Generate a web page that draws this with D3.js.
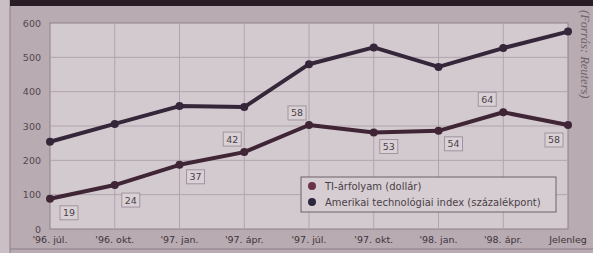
<!DOCTYPE html>
<html lang="hu">
  <head>
    <meta charset="UTF-8">
    <script src="https://d3js.org/d3.v7.min.js"></script>
    <title>TI-árfolyam</title>
    <style>
      body { margin: 0; background: #b8abb1; }
      svg { display: block; font-family: "DejaVu Sans", Arial, sans-serif; }
    </style>
  </head>
  <body>
    <div id="chart"></div>
    <script>
      // adatok
      const categories = ["'96. júl.", "'96. okt.", "'97. jan.", "'97. ápr.", "'97. júl.", "'97. okt.", "'98. jan.", "'98. ápr.", "Jelenleg"];
      const indexValues = [254, 306, 358, 355, 480, 529, 472, 527, 575];
      const tiValues = [88, 128, 187, 224, 303, 281, 286, 340, 303];
      const tiPrices = [19, 24, 37, 42, 58, 53, 54, 64, 58];
      const yTicks = [0, 100, 200, 300, 400, 500, 600];
      const seriesNames = ["TI-árfolyam (dollár)", "Amerikai technológiai index (százalékpont)"];

      // címkék elhelyezése a pontokhoz képest
      const labelOffsets = [[19, 14], [16, 15], [16, 12], [-12, -13], [-12, -12], [15, 14], [15, 13], [-16, -13], [-14, 15]];

      const width = 593, height = 253;
      const margin = { top: 23, right: 25, bottom: 24, left: 50 };

      const svg = d3.select("#chart").append("svg")
        .attr("width", width)
        .attr("height", height);

      // keret
      svg.append("rect").attr("x", 0).attr("y", 0).attr("width", 10).attr("height", height).attr("fill", "#c9bfc4");
      svg.append("line").attr("x1", 10).attr("x2", 10).attr("y1", 0).attr("y2", height).attr("stroke", "#8d7f88");
      svg.append("rect").attr("x", 10).attr("y", 0).attr("width", width - 10).attr("height", 6).attr("fill", "#2a1d26");
      svg.append("line").attr("x1", 10).attr("x2", width).attr("y1", 249).attr("y2", 249).attr("stroke", "#8d7f88");

      const x = d3.scalePoint()
        .domain(categories)
        .range([margin.left, width - margin.right]);

      const y = d3.scaleLinear()
        .domain([0, 600])
        .range([height - margin.bottom, margin.top]);

      // rajzterület
      svg.append("rect")
        .attr("x", margin.left)
        .attr("y", margin.top)
        .attr("width", width - margin.right - margin.left)
        .attr("height", y(0) - y(600))
        .attr("fill", "#d3cacf")
        .attr("stroke", "#8e818a");

      // rácsvonalak
      svg.append("g")
        .selectAll("line.h")
        .data(yTicks.slice(1, -1))
        .join("line")
        .attr("x1", margin.left).attr("x2", width - margin.right)
        .attr("y1", d => y(d)).attr("y2", d => y(d))
        .attr("stroke", "#b0a4ac");

      svg.append("g")
        .selectAll("line.v")
        .data(categories.slice(1, -1))
        .join("line")
        .attr("x1", d => x(d)).attr("x2", d => x(d))
        .attr("y1", y(0)).attr("y2", y(600))
        .attr("stroke", "#b0a4ac");

      // tengelyfeliratok
      svg.append("g")
        .selectAll("text")
        .data(yTicks)
        .join("text")
        .attr("x", 41)
        .attr("y", d => y(d) + 3.5)
        .attr("text-anchor", "end")
        .attr("font-size", 9.5)
        .attr("fill", "#54474f")
        .text(d => d);

      svg.append("g")
        .selectAll("text")
        .data(categories)
        .join("text")
        .attr("x", d => x(d))
        .attr("y", 243)
        .attr("text-anchor", "middle")
        .attr("font-size", 9.5)
        .attr("fill", "#3e333b")
        .text(d => d);

      // vonalak
      const line = d3.line()
        .x((d, i) => x(categories[i]))
        .y(d => y(d));

      const series = [
        { values: tiValues, color: "#3f2535" },
        { values: indexValues, color: "#35263a" }
      ];

      series.forEach(s => {
        svg.append("path")
          .datum(s.values)
          .attr("d", line)
          .attr("fill", "none")
          .attr("stroke", s.color)
          .attr("stroke-width", 4)
          .attr("stroke-linejoin", "round");

        svg.append("g")
          .selectAll("circle")
          .data(s.values)
          .join("circle")
          .attr("cx", (d, i) => x(categories[i]))
          .attr("cy", d => y(d))
          .attr("r", 4)
          .attr("fill", s.color);
      });

      // árcímkék
      const labels = svg.append("g")
        .selectAll("g")
        .data(tiPrices)
        .join("g")
        .attr("transform", (d, i) => `translate(${x(categories[i]) + labelOffsets[i][0]},${y(tiValues[i]) + labelOffsets[i][1]})`);

      labels.append("rect")
        .attr("x", -9).attr("y", -7)
        .attr("width", 18).attr("height", 14)
        .attr("fill", "#d9d1d5")
        .attr("stroke", "#a194a0");

      labels.append("text")
        .attr("y", 3.5)
        .attr("text-anchor", "middle")
        .attr("font-size", 9.5)
        .attr("fill", "#4a3f47")
        .text(d => d);

      // jelmagyarázat
      const legend = svg.append("g").attr("transform", "translate(301,177)");
      legend.append("rect")
        .attr("width", 255).attr("height", 35)
        .attr("fill", "#d6cdd2")
        .attr("stroke", "#6e616a");

      const legendColors = ["#6b3346", "#2e2740"];
      seriesNames.forEach((name, i) => {
        legend.append("circle")
          .attr("cx", 11).attr("cy", 9 + i * 16)
          .attr("r", 4)
          .attr("fill", legendColors[i]);
        legend.append("text")
          .attr("x", 24).attr("y", 12.5 + i * 16)
          .attr("font-size", 10)
          .attr("fill", "#4a3f47")
          .text(name);
      });

      // forrás
      svg.append("text")
        .attr("transform", "translate(581,10) rotate(90)")
        .attr("font-size", 12.5)
        .attr("font-style", "italic")
        .attr("font-family", "Liberation Serif, serif")
        .attr("fill", "#6e616a")
        .text("(Forrás: Reuters)");
    </script>
  </body>
</html>
